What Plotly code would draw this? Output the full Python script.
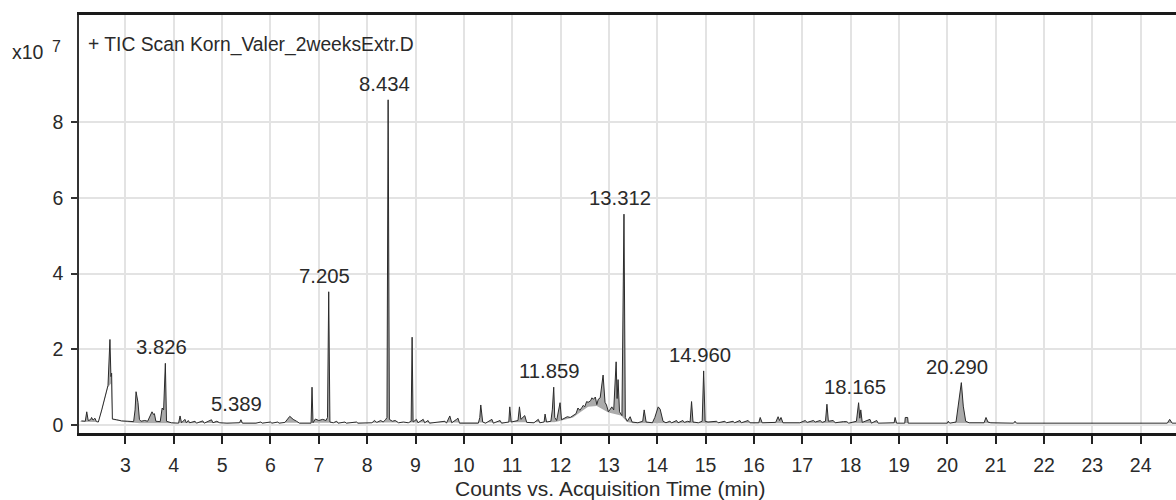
import plotly.graph_objects as go

# Retention time (min) and TIC counts (x10^7)
rt = [2.09, 2.17, 2.20, 2.23, 2.28, 2.30, 2.33, 2.37, 2.40, 2.44, 2.51, 2.58, 2.64, 2.68, 2.70, 2.715, 2.73,
      2.82, 2.92, 3.05, 3.17, 3.20, 3.22, 3.26, 3.29, 3.32, 3.40, 3.46, 3.51, 3.55, 3.58, 3.60, 3.63,
      3.72, 3.76, 3.79, 3.826, 3.85, 3.95, 4.10, 4.13, 4.16, 4.23, 4.26, 4.30, 4.33, 4.44, 4.47, 4.60,
      4.63, 4.78, 4.81, 4.89, 4.95, 5.10, 5.36, 5.389, 5.42, 5.70, 5.80, 5.83, 6.00, 6.03, 6.15, 6.18,
      6.30, 6.40, 6.47, 6.54, 6.60, 6.84, 6.86, 6.88, 6.93, 7.00, 7.08, 7.15, 7.18, 7.205, 7.23, 7.30,
      7.37, 7.40, 7.54, 7.57, 7.78, 7.81, 8.10, 8.15, 8.20, 8.28, 8.33, 8.38, 8.41, 8.434, 8.46, 8.52,
      8.58, 8.65, 8.75, 8.85, 8.91, 8.93, 8.95, 9.02, 9.05, 9.16, 9.19, 9.26, 9.29, 9.61, 9.64, 9.71,
      9.75, 9.85, 9.88, 9.91, 10.30, 10.33, 10.35, 10.39, 10.45, 10.58, 10.61, 10.75, 10.78, 10.93,
      10.95, 10.98, 11.05, 11.12, 11.15, 11.18, 11.26, 11.30, 11.45, 11.54, 11.57, 11.66, 11.68, 11.71,
      11.80, 11.83, 11.859, 11.88, 11.92, 11.96, 11.99, 12.02, 12.06, 12.14, 12.20, 12.26, 12.32, 12.36,
      12.40, 12.44, 12.47, 12.50, 12.54, 12.57, 12.62, 12.65, 12.68, 12.72, 12.75, 12.78, 12.82, 12.88,
      12.92, 12.95, 12.99, 13.03, 13.06, 13.10, 13.15, 13.17, 13.19, 13.22, 13.25, 13.27, 13.312, 13.34,
      13.38, 13.44, 13.48, 13.60, 13.70, 13.73, 13.77, 13.90, 13.95, 14.02, 14.06, 14.12, 14.18, 14.26,
      14.30, 14.40, 14.43, 14.53, 14.56, 14.63, 14.68, 14.71, 14.74, 14.85, 14.93, 14.96, 14.99, 15.05,
      15.23, 15.26, 15.40, 15.43, 15.57, 15.60, 15.71, 15.74, 15.88, 15.92, 16.10, 16.13, 16.17, 16.45,
      16.50, 16.53, 16.56, 16.60, 16.95, 17.06, 17.10, 17.23, 17.27, 17.37, 17.41, 17.48, 17.51, 17.54,
      17.64, 17.68, 17.85, 17.92, 17.96, 18.12, 18.165, 18.19, 18.21, 18.24, 18.40, 18.43, 18.54, 18.57,
      18.90, 18.92, 18.95, 19.12, 19.13, 19.18, 19.19, 20.00, 20.02, 20.05, 20.18, 20.24, 20.29, 20.33,
      20.38, 20.45, 20.76, 20.80, 20.84, 20.90, 21.37, 21.40, 21.43, 24.55, 24.60, 24.65, 24.73]
tic = [0.11, 0.10, 0.35, 0.12, 0.14, 0.20, 0.13, 0.18, 0.09, 0.08, 0.40, 0.75, 1.05, 2.26, 1.28, 1.37, 0.16,
       0.14, 0.11, 0.10, 0.09, 0.40, 0.88, 0.60, 0.15, 0.10, 0.12, 0.10, 0.24, 0.35, 0.28, 0.30, 0.10,
       0.09, 0.45, 0.40, 1.63, 0.10, 0.06, 0.05, 0.24, 0.06, 0.15, 0.06, 0.12, 0.06, 0.10, 0.05, 0.11,
       0.05, 0.14, 0.06, 0.10, 0.06, 0.05, 0.06, 0.14, 0.05, 0.05, 0.08, 0.05, 0.08, 0.05, 0.08, 0.05,
       0.07, 0.23, 0.15, 0.10, 0.05, 0.05, 1.00, 0.06, 0.16, 0.12, 0.15, 0.12, 0.20, 3.52, 0.08, 0.06,
       0.10, 0.05, 0.08, 0.05, 0.08, 0.05, 0.06, 0.12, 0.07, 0.12, 0.08, 0.14, 0.20, 8.59, 0.15, 0.10,
       0.12, 0.06, 0.08, 0.06, 0.10, 2.32, 0.08, 0.15, 0.06, 0.15, 0.06, 0.12, 0.05, 0.10, 0.05, 0.24,
       0.06, 0.15, 0.18, 0.05, 0.05, 0.20, 0.53, 0.08, 0.05, 0.15, 0.05, 0.12, 0.05, 0.08,
       0.48, 0.08, 0.10, 0.12, 0.48, 0.15, 0.25, 0.07, 0.06, 0.15, 0.06, 0.08, 0.29, 0.08,
       0.10, 0.40, 1.00, 0.20, 0.12, 0.35, 0.59, 0.14, 0.16, 0.22, 0.20, 0.26, 0.30, 0.45,
       0.39, 0.46, 0.52, 0.48, 0.62, 0.60, 0.64, 0.72, 0.68, 0.74, 0.54, 0.68, 0.72, 1.32,
       0.60, 0.53, 0.35, 0.42, 0.48, 0.40, 1.67, 0.70, 1.20, 0.35, 0.28, 0.25, 5.57, 0.20,
       0.10, 0.22, 0.08, 0.06, 0.10, 0.40, 0.08, 0.06, 0.20, 0.48, 0.42, 0.10, 0.06, 0.10,
       0.06, 0.12, 0.06, 0.12, 0.07, 0.10, 0.08, 0.62, 0.08, 0.06, 0.10, 1.43, 0.10, 0.08,
       0.10, 0.06, 0.10, 0.06, 0.10, 0.06, 0.12, 0.06, 0.12, 0.06, 0.06, 0.20, 0.06, 0.07,
       0.22, 0.12, 0.20, 0.06, 0.06, 0.12, 0.07, 0.12, 0.08, 0.12, 0.07, 0.10, 0.55, 0.10,
       0.12, 0.06, 0.09, 0.09, 0.05, 0.10, 0.59, 0.18, 0.40, 0.07, 0.15, 0.05, 0.12, 0.05,
       0.06, 0.20, 0.05, 0.05, 0.20, 0.20, 0.05, 0.05, 0.10, 0.05, 0.08, 0.60, 1.12, 0.50,
       0.10, 0.06, 0.06, 0.20, 0.08, 0.06, 0.05, 0.10, 0.05, 0.05, 0.15, 0.05, 0.05]

# Integration baseline under the peaks (x10^7)
base_rt = [2.05, 2.44, 2.51, 2.58, 2.64, 2.70, 2.73, 3.00, 3.30, 11.90, 12.06, 12.26, 12.40, 12.57,
           12.75, 12.99, 13.25, 13.38, 13.50, 24.75]
base_tic = [0.09, 0.08, 0.36, 0.70, 1.00, 1.10, 0.14, 0.08, 0.05, 0.08, 0.14, 0.20, 0.33, 0.48,
            0.50, 0.33, 0.25, 0.08, 0.05, 0.05]

# Labelled peaks
peak_labels = ["3.826", "5.389", "7.205", "8.434", "11.859", "13.312", "14.960", "18.165", "20.290"]
peak_heights = [1.63, 0.14, 3.52, 8.59, 1.00, 5.57, 1.43, 0.59, 1.12]

x_ticks = list(range(3, 25))
y_ticks = [0, 2, 4, 6, 8]

title_text = "+ TIC Scan Korn_Valer_2weeksExtr.D"
x_title = "Counts vs. Acquisition Time (min)"
y_multiplier = "x10"
y_exponent = "7"

FONT = "Liberation Sans, Arial, sans-serif"
TXT = "#2a2a2a"

fig = go.Figure()
fig.add_trace(go.Scatter(x=base_rt, y=base_tic, mode="lines",
                         line=dict(width=0, color="rgba(0,0,0,0)"),
                         hoverinfo="skip", showlegend=False))
fig.add_trace(go.Scatter(x=rt, y=tic, mode="lines",
                         line=dict(color="#2b2b2b", width=1),
                         fill="tonexty", fillcolor="#ababab",
                         showlegend=False))

annotations = []
for lab, h in zip(peak_labels, peak_heights):
    annotations.append(dict(x=float(lab), y=h, xref="x", yref="y", text=lab,
                            showarrow=False, yanchor="bottom", xanchor="center",
                            xshift=-4, yshift=3,
                            font=dict(family=FONT, size=20.3, color=TXT)))

annotations.append(dict(x=0.0064, y=10.04, xref="paper", yref="y", text=title_text,
                        showarrow=False, xanchor="left", yanchor="middle",
                        font=dict(family=FONT, size=19.3, color=TXT)))
annotations.append(dict(x=-0.0469, y=9.86, xref="paper", yref="y", text=y_multiplier,
                        showarrow=False, xanchor="center", yanchor="middle",
                        font=dict(family=FONT, size=19.5, color=TXT)))
annotations.append(dict(x=-0.0201, y=10.0, xref="paper", yref="y", text=y_exponent,
                        showarrow=False, xanchor="center", yanchor="middle",
                        font=dict(family=FONT, size=16, color=TXT)))
annotations.append(dict(x=0.484, y=-0.1316, xref="paper", yref="paper", text=x_title,
                        showarrow=False, xanchor="center", yanchor="middle",
                        font=dict(family=FONT, size=21, color=TXT)))

fig.update_layout(
    width=1176, height=500,
    margin=dict(l=79, r=0, t=15, b=67),
    plot_bgcolor="white", paper_bgcolor="white",
    font=dict(family=FONT, size=19.5, color=TXT),
    showlegend=False,
    annotations=annotations,
    hovermode=False,
)
fig.update_xaxes(range=[2.04, 24.73], tickvals=x_ticks, ticktext=[str(v) for v in x_ticks],
                 ticks="outside", ticklen=8, tickwidth=1.5, tickcolor="#222",
                 showline=True, linewidth=2.5, linecolor="#1a1a1a", mirror=True,
                 showgrid=True, gridcolor="#e3e3e3", gridwidth=1.5, zeroline=False,
                 ticklabelstandoff=5)
fig.update_yaxes(range=[-0.21, 10.83], tickvals=y_ticks, ticktext=[str(v) for v in y_ticks],
                 ticks="outside", ticklen=6, tickwidth=1.5, tickcolor="#333",
                 showline=True, linewidth=1.5, linecolor="#333",
                 showgrid=True, gridcolor="#e3e3e3", gridwidth=1.5, zeroline=False,
                 ticklabelstandoff=4)
# keep the header strip free of vertical grid lines
fig.add_shape(type="rect", xref="paper", yref="y", x0=0, x1=1, y0=9.43, y1=10.83,
              fillcolor="white", line_width=0, layer="between")

fig.write_html("out.html", config={"displayModeBar": False},
               post_script="document.body.style.margin='0';document.body.style.overflow='hidden';")
